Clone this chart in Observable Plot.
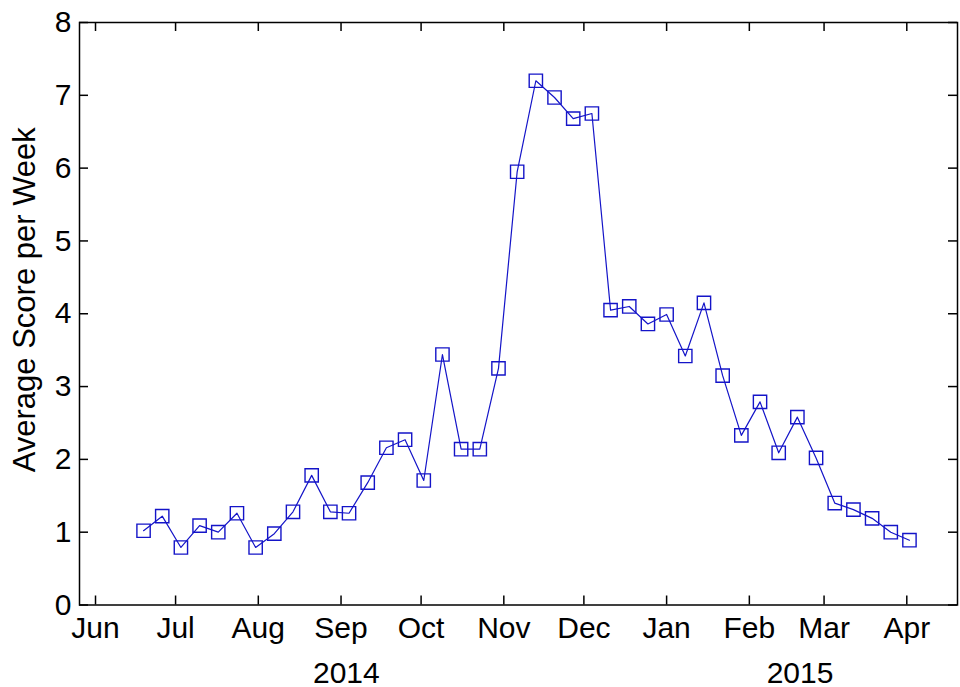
<!DOCTYPE html>
<html>
<head>
<meta charset="utf-8">
<script src="https://cdn.jsdelivr.net/npm/d3@7"></script>
<script src="https://cdn.jsdelivr.net/npm/@observablehq/plot@0.6"></script>
<style>
  html, body { margin: 0; padding: 0; background: #fff; }
  #chart svg { display: block; }
</style>
</head>
<body>
<div id="chart"></div>
<script>
// Weekly dates (2014-06-19 .. 2015-04-02)
const weekDates = [
  "2014-06-19","2014-06-26","2014-07-03","2014-07-10","2014-07-17","2014-07-24","2014-07-31",
  "2014-08-07","2014-08-14","2014-08-21","2014-08-28","2014-09-04","2014-09-11","2014-09-18",
  "2014-09-25","2014-10-02","2014-10-09","2014-10-16","2014-10-23","2014-10-30","2014-11-06",
  "2014-11-13","2014-11-20","2014-11-27","2014-12-04","2014-12-11","2014-12-18","2014-12-25",
  "2015-01-01","2015-01-08","2015-01-15","2015-01-22","2015-01-29","2015-02-05","2015-02-12",
  "2015-02-19","2015-02-26","2015-03-05","2015-03-12","2015-03-19","2015-03-26","2015-04-02"
];
const avgScore = [
  1.02, 1.22, 0.79, 1.09, 1.00, 1.26, 0.79, 0.98, 1.28, 1.78, 1.28, 1.26, 1.68, 2.16,
  2.27, 1.71, 3.44, 2.14, 2.14, 3.25, 5.95, 7.20, 6.97, 6.68, 6.75, 4.05, 4.10, 3.86,
  3.99, 3.42, 4.15, 3.15, 2.33, 2.79, 2.09, 2.58, 2.02, 1.40, 1.31, 1.19, 1.00, 0.89
];
const monthTicks = [
  "2014-06-01","2014-07-01","2014-08-01","2014-09-01","2014-10-01","2014-11-01",
  "2014-12-01","2015-01-01","2015-02-01","2015-03-01","2015-04-01"
];
const yTicks = [0, 1, 2, 3, 4, 5, 6, 7, 8];
const yearLabels = ["2014", "2015"];
const yearLabelDates = ["2014-09-03", "2015-02-20"];
const xDomain = ["2014-05-26", "2015-04-20"];
const yDomain = [0, 8];
const yTitle = "Average Score per Week";

const parse = s => new Date(s + "T00:00:00Z");
const data = weekDates.map((d, i) => ({date: parse(d), value: avgScore[i]}));
const months = monthTicks.map(parse);
const years = yearLabels.map((t, i) => ({label: t, date: parse(yearLabelDates[i])}));

const W = 960, H = 687;
const mL = 79, mR = 3, mT = 22, mB = 82.5;
const plotH = H - mT - mB, plotW = W - mL - mR;
const tickLen = 9;
const blue = "#1414c8";
const font = "'Liberation Sans', Arial, Helvetica, sans-serif";

const chart = Plot.plot({
  width: W, height: H,
  marginLeft: mL, marginRight: mR, marginTop: mT, marginBottom: mB,
  style: {fontFamily: font, background: "#fff", color: "#000"},
  x: {type: "utc", domain: xDomain.map(parse)},
  y: {domain: yDomain},
  marks: [
    // inward ticks: bottom & top
    Plot.tickX(months, {x: d => d, insetTop: plotH - tickLen, stroke: "#000", strokeWidth: 1.5}),
    Plot.tickX(months, {x: d => d, insetBottom: plotH - tickLen, stroke: "#000", strokeWidth: 1.5}),
    // inward ticks: left & right
    Plot.tickY(yTicks, {y: d => d, insetRight: plotW - tickLen, stroke: "#000", strokeWidth: 1.5}),
    Plot.tickY(yTicks, {y: d => d, insetLeft: plotW - tickLen, stroke: "#000", strokeWidth: 1.5}),
    Plot.axisX(months, {tickSize: 0, tickPadding: 12, tickFormat: d3.utcFormat("%b"), fontSize: 30, label: null}),
    Plot.axisY(yTicks, {tickSize: 0, tickPadding: 8, fontSize: 30, tickFormat: d3.format("d"), label: null}),
    Plot.text([yTitle], {text: d => d, frameAnchor: "left", rotate: -90, dx: -54, dy: -14, textAnchor: "middle", lineAnchor: "middle", fontSize: 31, fill: "#000"}),
    Plot.text(years, {x: "date", text: "label", frameAnchor: "bottom", lineAnchor: "bottom", dy: 77.5, fontSize: 30, fill: "#000"}),
    Plot.line(data, {x: "date", y: "value", stroke: blue, strokeWidth: 1.2}),
    Plot.dot(data, {x: "date", y: "value", symbol: "square", r: 7.5, stroke: blue, strokeWidth: 1.4, fill: "none"}),
    Plot.frame({stroke: "#000", strokeWidth: 1.5})
  ]
});
document.getElementById("chart").appendChild(chart);
</script>
</body>
</html>
